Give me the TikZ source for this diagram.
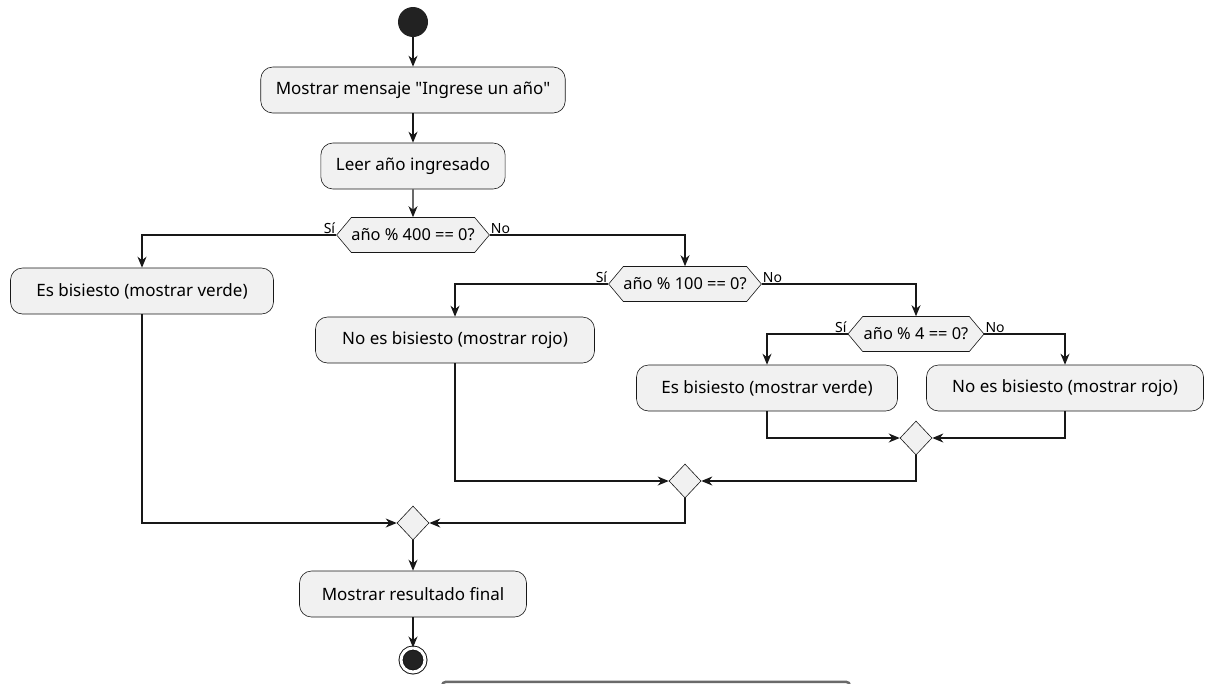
\documentclass[tikz,border=0pt]{standalone}
\usepackage{fontspec}
\setmainfont{Noto Sans}
\usetikzlibrary{shapes.geometric, shapes.symbols, arrows.meta}
\definecolor{boxfill}{HTML}{F1F1F1}
\definecolor{linecol}{HTML}{181818}
\definecolor{dotcol}{HTML}{222222}
\definecolor{cutcol}{HTML}{6A6A6A}
\tikzstyle{actnode} = [rectangle, rounded corners=12pt,
minimum height=46pt,
inner xsep=15pt,
fill=boxfill,
draw=linecol, line width=0.6pt,
font=\fontsize{17}{20}\selectfont]
\tikzstyle{decnode} = [signal, signal to=west and east,
signal pointer angle=100,
minimum height=35pt,
inner sep=0pt,
fill=boxfill,
draw=linecol, line width=0.6pt,
font=\fontsize{16.4}{19}\selectfont]
\tikzstyle{mergenode} = [diamond,
minimum width=32pt,
minimum height=34pt,
inner sep=0pt,
fill=boxfill,
draw=linecol, line width=0.6pt]
\tikzstyle{startnode} = [circle, fill=dotcol, minimum size=30pt, inner sep=0pt]
\tikzstyle{endnode} = [circle, fill=dotcol, draw=linecol, line width=1pt,
double=white, double distance=3pt, minimum size=24pt, inner sep=0pt]
\tikzstyle{lbl} = [inner sep=1pt, font=\fontsize{14}{16}\selectfont]
\tikzstyle{arrow} = [line width=1.1pt, draw=linecol, -{Stealth[length=11pt, width=9pt, inset=3.5pt]}]

\begin{document}
\begin{tikzpicture}[x=1pt, y=-1pt]
\useasboundingbox (0,0) rectangle (1214,683);

\node (start) [startnode] at (413,22) {};
\node (ask) [actnode] at (413,90) {Mostrar mensaje \textquotedbl Ingrese un año\textquotedbl};
\node (read) [actnode] at (413,166) {Leer año ingresado};

\node (dec1) [decnode, minimum width=151pt] at (413,235) {año \% 400 == 0?};
\node (leap1) [actnode, minimum width=263pt] at (142,291) {Es bisiesto (mostrar verde)};

\node (dec2) [decnode, minimum width=152pt] at (685,284) {año \% 100 == 0?};
\node (noleap1) [actnode, minimum width=279pt] at (455,340) {No es bisiesto (mostrar rojo)};

\node (dec3) [decnode, minimum width=136pt] at (916,334) {año \% 4 == 0?};
\node (leap2) [actnode, minimum width=261pt] at (767,388) {Es bisiesto (mostrar verde)};
\node (noleap2) [actnode, minimum width=277pt] at (1065,388) {No es bisiesto (mostrar rojo)};

\node (merge3) [mergenode] at (916,438) {};
\node (merge2) [mergenode] at (685,481) {};
\node (merge1) [mergenode] at (413,523) {};

\node (result) [actnode, minimum width=227pt] at (413,594) {Mostrar resultado final};
\node (stop) [endnode] at (413,660) {};

% cut-off box at the bottom edge
\node (cutbox) [rectangle, rounded corners=4pt, draw=cutcol, line width=2.5pt,
minimum width=408pt, minimum height=40pt, anchor=north] at (646,680.5) {};

\node [lbl, anchor=south east] at (dec1.west) {Sí};
\node [lbl, anchor=south west] at (dec1.east) {No};
\node [lbl, anchor=south east] at (dec2.west) {Sí};
\node [lbl, anchor=south west] at (dec2.east) {No};
\node [lbl, anchor=south east] at (dec3.west) {Sí};
\node [lbl, anchor=south west] at (dec3.east) {No};

\draw [arrow] (start) -- (ask);
\draw [arrow] (ask) -- (read);
\draw [arrow] (read) -- (dec1);

\draw [arrow] (dec1.west) -| (leap1.north);
\draw [arrow] (dec1.east) -| (dec2.north);

\draw [arrow] (dec2.west) -| (noleap1.north);
\draw [arrow] (dec2.east) -| (dec3.north);

\draw [arrow] (dec3.west) -| (leap2.north);
\draw [arrow] (dec3.east) -| (noleap2.north);

\draw [arrow] (leap2.south) |- (merge3.west);
\draw [arrow] (noleap2.south) |- (merge3.east);

\draw [arrow] (noleap1.south) |- (merge2.west);
\draw [arrow] (merge3.south) |- (merge2.east);

\draw [arrow] (leap1.south) |- (merge1.west);
\draw [arrow] (merge2.south) |- (merge1.east);

\draw [arrow] (merge1) -- (result);
\draw [arrow] (result) -- (stop);

\end{tikzpicture}
\end{document}
